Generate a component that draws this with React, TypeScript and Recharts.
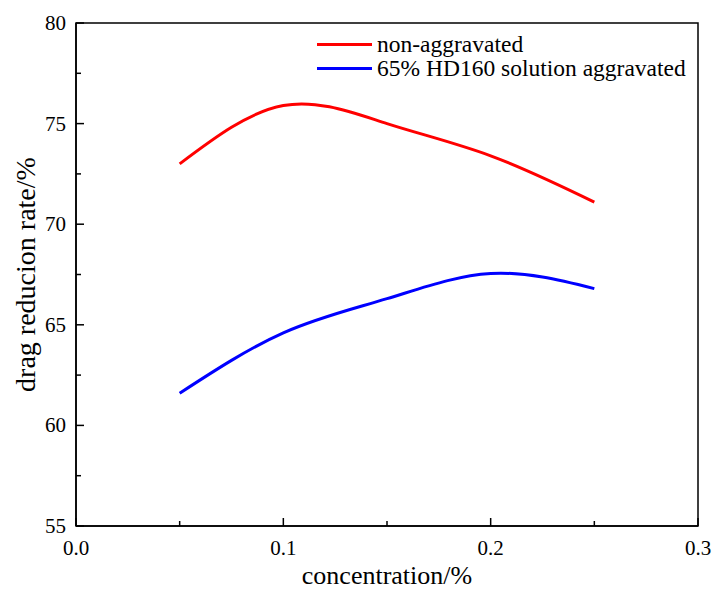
import React from 'react'
import { LineChart, Line, XAxis, YAxis, ReferenceArea } from 'recharts'

const concentration = [0.05, 0.1, 0.15, 0.2, 0.25]
const nonAggravated = [73.0, 75.9, 75.0, 73.4, 71.1]
const hd160Aggravated = [61.6, 64.6, 66.3, 67.55, 66.8]

const xTicks = [0, 0.05, 0.1, 0.15, 0.2, 0.25, 0.3]
const xMajor = [0, 0.1, 0.2, 0.3]
const yTicks = [55, 57.5, 60, 62.5, 65, 67.5, 70, 72.5, 75, 77.5, 80]
const yMajor = [55, 60, 65, 70, 75, 80]

const seriesInfo = [
  { key: 'a', name: 'non-aggravated', color: '#FF0000' },
  { key: 'b', name: '65% HD160 solution aggravated', color: '#0000FF' },
]

const data = concentration.map((c, i) => ({
  c,
  a: nonAggravated[i],
  b: hd160Aggravated[i],
}))

const FONT = "'Times New Roman', Tinos, 'Liberation Serif', 'DejaVu Serif', serif"

const XTick = (props: any) => {
  const { x, y, payload } = props
  const v = payload.value
  const major = xMajor.some((m) => Math.abs(m - v) < 1e-9)
  const len = major ? 8 : 5
  return (
    <g>
      <line x1={x} x2={x} y1={y} y2={y - len} stroke="#000" strokeWidth={1.5} />
      {major && (
        <text x={x} y={y + 29} textAnchor="middle" fontFamily={FONT} fontSize={21} fill="#000">
          {v.toFixed(1)}
        </text>
      )}
    </g>
  )
}

const YTick = (props: any) => {
  const { x, y, payload } = props
  const v = payload.value
  const major = yMajor.includes(v)
  const len = major ? 8 : 5
  return (
    <g>
      <line x1={x} x2={x + len} y1={y} y2={y} stroke="#000" strokeWidth={1.5} />
      {major && (
        <text x={x - 10} y={y + 7} textAnchor="end" fontFamily={FONT} fontSize={21} fill="#000">
          {v}
        </text>
      )}
    </g>
  )
}

export default function App() {
  return (
    <div style={{ position: 'absolute', left: 0, top: 0, width: 719, height: 598, background: '#fff' }}>
      <LineChart width={719} height={598} data={data} margin={{ top: 23, right: 21, bottom: 0, left: 0 }}>
        <XAxis
          dataKey="c"
          type="number"
          domain={[0, 0.3]}
          ticks={xTicks}
          interval={0}
          height={72}
          tickSize={0}
          tickMargin={0}
          tickLine={false}
          tick={<XTick />}
          axisLine={{ stroke: '#000', strokeWidth: 1.5 }}
          label={{
            value: 'concentration/%',
            position: 'insideBottom',
            offset: 14,
            style: { fontFamily: FONT, fontSize: 26, fill: '#000' },
          }}
        />
        <YAxis
          domain={[55, 80]}
          ticks={yTicks}
          interval={0}
          width={76}
          tickSize={0}
          tickMargin={0}
          tickLine={false}
          tick={<YTick />}
          axisLine={{ stroke: '#000', strokeWidth: 1.5 }}
          label={{
            value: 'drag reducion rate/%',
            angle: -90,
            position: 'insideLeft',
            offset: 0,
            style: { fontFamily: FONT, fontSize: 28, fill: '#000', textAnchor: 'middle' },
            dx: 25,
          }}
        />
        <ReferenceArea
          x1={0}
          x2={0.3}
          y1={55}
          y2={80}
          fill="none"
          stroke="#000"
          strokeWidth={1.5}
          ifOverflow="visible"
        />
        {seriesInfo.map((s) => (
          <Line
            key={s.key}
            dataKey={s.key}
            name={s.name}
            type="natural"
            stroke={s.color}
            strokeWidth={3}
            dot={false}
            activeDot={false}
            isAnimationActive={false}
          />
        ))}
      </LineChart>
      <div
        style={{
          position: 'absolute',
          left: 317,
          top: 32,
          fontFamily: FONT,
          fontSize: 23.5,
          color: '#000',
          lineHeight: '24px',
        }}
      >
        {seriesInfo.map((s) => (
          <div key={s.key} style={{ display: 'flex', alignItems: 'center', whiteSpace: 'nowrap' }}>
            <span style={{ display: 'inline-block', width: 55, height: 3, background: s.color, marginRight: 5 }} />
            <span>{s.name}</span>
          </div>
        ))}
      </div>
    </div>
  )
}
